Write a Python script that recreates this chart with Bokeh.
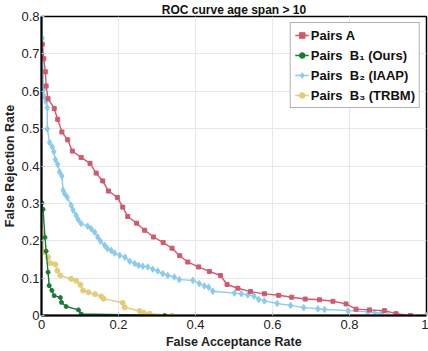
from bokeh.plotting import figure
from bokeh.models import Range1d, FixedTicker, Legend
from bokeh.embed import file_html
from bokeh.resources import INLINE

# Pairs A
a_far = [0.002, 0.006, 0.010, 0.012, 0.017, 0.033, 0.042, 0.053, 0.068, 0.080, 0.103, 0.126,
         0.142, 0.159, 0.174, 0.197, 0.211, 0.224, 0.247, 0.268, 0.291, 0.316, 0.339, 0.359,
         0.380, 0.408, 0.436, 0.465, 0.482, 0.510, 0.543, 0.579, 0.616, 0.650, 0.685, 0.722,
         0.757, 0.791, 0.817, 0.852, 0.891, 0.921, 0.958]
a_frr = [0.726, 0.687, 0.652, 0.614, 0.580, 0.554, 0.525, 0.491, 0.470, 0.440, 0.423, 0.407,
         0.381, 0.360, 0.333, 0.316, 0.290, 0.265, 0.247, 0.228, 0.210, 0.195, 0.180, 0.160,
         0.143, 0.130, 0.118, 0.107, 0.083, 0.073, 0.064, 0.058, 0.054, 0.049, 0.044, 0.042,
         0.038, 0.031, 0.017, 0.015, 0.013, 0.005, 0.000]

# Pairs B1 (Ours)
b1_far = [0.001, 0.004, 0.009, 0.012, 0.017, 0.020, 0.027, 0.033, 0.049, 0.052, 0.064,
          0.096, 0.103, 0.320]
b1_frr = [0.301, 0.284, 0.209, 0.172, 0.116, 0.080, 0.067, 0.053, 0.048, 0.035, 0.024,
          0.015, 0.004, 0.000]

# Pairs B2 (IAAP)
b2_far = [0.002, 0.005, 0.008, 0.012, 0.015, 0.015, 0.021, 0.028, 0.032, 0.036, 0.042,
          0.047, 0.053, 0.056, 0.060, 0.067, 0.077, 0.082, 0.090, 0.095, 0.103, 0.120,
          0.129, 0.138, 0.146, 0.153, 0.164, 0.171, 0.181, 0.190, 0.203, 0.217, 0.229,
          0.242, 0.252, 0.263, 0.276, 0.289, 0.302, 0.315, 0.328, 0.345, 0.358, 0.393,
          0.410, 0.423, 0.434, 0.445, 0.501, 0.519, 0.536, 0.552, 0.564, 0.579, 0.612,
          0.647, 0.681, 0.718, 0.735, 0.796, 0.848, 0.865, 0.882, 0.900]
b2_frr = [0.742, 0.605, 0.585, 0.572, 0.556, 0.499, 0.463, 0.451, 0.438, 0.417, 0.404,
          0.384, 0.373, 0.335, 0.326, 0.316, 0.295, 0.282, 0.268, 0.257, 0.246, 0.239,
          0.232, 0.223, 0.210, 0.199, 0.188, 0.179, 0.174, 0.167, 0.161, 0.156, 0.145,
          0.139, 0.134, 0.132, 0.130, 0.124, 0.119, 0.112, 0.107, 0.103, 0.096, 0.094,
          0.085, 0.079, 0.076, 0.065, 0.060, 0.058, 0.055, 0.052, 0.043, 0.039, 0.032,
          0.027, 0.021, 0.018, 0.016, 0.013, 0.010, 0.008, 0.006, 0.000]

# Pairs B3 (TRBM)
b3_far = [0.001, 0.006, 0.017, 0.023, 0.036, 0.041, 0.049, 0.077, 0.090, 0.101, 0.108,
          0.122, 0.139, 0.155, 0.161, 0.211, 0.216, 0.255, 0.266, 0.281, 0.339, 1.000]
b3_frr = [0.221, 0.170, 0.156, 0.140, 0.137, 0.120, 0.107, 0.098, 0.093, 0.082, 0.067,
          0.062, 0.057, 0.051, 0.045, 0.034, 0.022, 0.012, 0.007, 0.005, 0.000, 0.000]

x_ticks = [0, 0.2, 0.4, 0.6, 0.8, 1.0]
y_ticks = [0, 0.1, 0.2, 0.3, 0.4, 0.5, 0.6, 0.7, 0.8]
x_tick_labels = {0: "0", 0.2: "0.2", 0.4: "0.4", 0.6: "0.6", 0.8: "0.8", 1.0: "1"}
y_tick_labels = {0: "0", 0.1: "0.1", 0.2: "0.2", 0.3: "0.3", 0.4: "0.4", 0.5: "0.5",
                 0.6: "0.6", 0.7: "0.7", 0.8: "0.8"}

FONT = "Liberation Sans"
RED = "#CF5A6E"
GREEN = "#1B7A36"
BLUE = "#8CCBEC"
YELLOW = "#E3CC7C"

p = figure(width=428, height=351, output_backend="svg", toolbar_location=None,
           x_range=Range1d(0, 1), y_range=Range1d(0, 0.8),
           min_border_left=0, min_border_right=2, min_border_top=0, min_border_bottom=0)

p.title.text = "ROC curve age span > 10"
p.title.text_font = FONT
p.title.text_font_size = "12px"
p.title.text_font_style = "bold"
p.title.text_color = "#111111"
p.title.align = "center"
p.title.standoff = 0

for ax in (p.xaxis[0], p.yaxis[0]):
    ax.axis_line_color = "black"
    ax.axis_line_width = 2
    ax.major_tick_in = 3
    ax.major_tick_out = 0
    ax.major_tick_line_color = "#bbbbbb"
    ax.minor_tick_line_color = None
    ax.major_label_text_font = FONT
    ax.major_label_text_font_size = "13px"
    ax.major_label_text_color = "#222222"
    ax.axis_label_text_font = FONT
    ax.axis_label_text_font_size = "12.5px"
    ax.axis_label_text_font_style = "bold"
    ax.axis_label_text_color = "#222222"

p.xaxis.ticker = FixedTicker(ticks=x_ticks)
p.yaxis.ticker = FixedTicker(ticks=y_ticks)
p.xaxis.major_label_overrides = x_tick_labels
p.yaxis.major_label_overrides = y_tick_labels
p.xaxis.axis_label = "False Acceptance Rate"
p.yaxis.axis_label = "False Rejection Rate"
p.xaxis.axis_label_standoff = 3
p.yaxis.axis_label_standoff = 1
p.xaxis.major_label_standoff = 4
p.yaxis.major_label_standoff = 2

p.outline_line_color = "black"
p.outline_line_width = 1.5
p.grid.grid_line_color = "#e8e8e8"
p.grid.grid_line_width = 1

series = [
    (a_far, a_frr, RED, "square", 4, "Pairs A"),
    (b1_far, b1_frr, GREEN, "circle", 4, "Pairs  B\u2081 (Ours)"),
    (b2_far, b2_frr, BLUE, "diamond", 6.5, "Pairs  B\u2082 (IAAP)"),
    (b3_far, b3_frr, YELLOW, "circle", 5, "Pairs  B\u2083 (TRBM)"),
]
order = [2, 3, 0, 1]
rends = {}
for i in order:
    xs, ys, col, mk, sz, lab = series[i]
    l = p.line(xs, ys, line_color=col, line_width=1.4)
    s = p.scatter(xs, ys, marker=mk, size=sz, fill_color=col, line_color=col)
    rends[i] = (lab, [l, s])
items = [rends[i] for i in range(4)]

leg = Legend(items=items, location="top_right")
leg.label_text_font = FONT
leg.label_text_font_style = "bold"
leg.label_text_font_size = "13px"
leg.label_text_color = "#111111"
leg.border_line_color = "#666666"
leg.border_line_width = 1
leg.glyph_width = 14
leg.label_standoff = 2
leg.spacing = 4
leg.padding = 4
leg.margin = 6
leg.label_height = 16
leg.glyph_height = 16
p.add_layout(leg)

open("out.html", "w").write(file_html(p, INLINE))
